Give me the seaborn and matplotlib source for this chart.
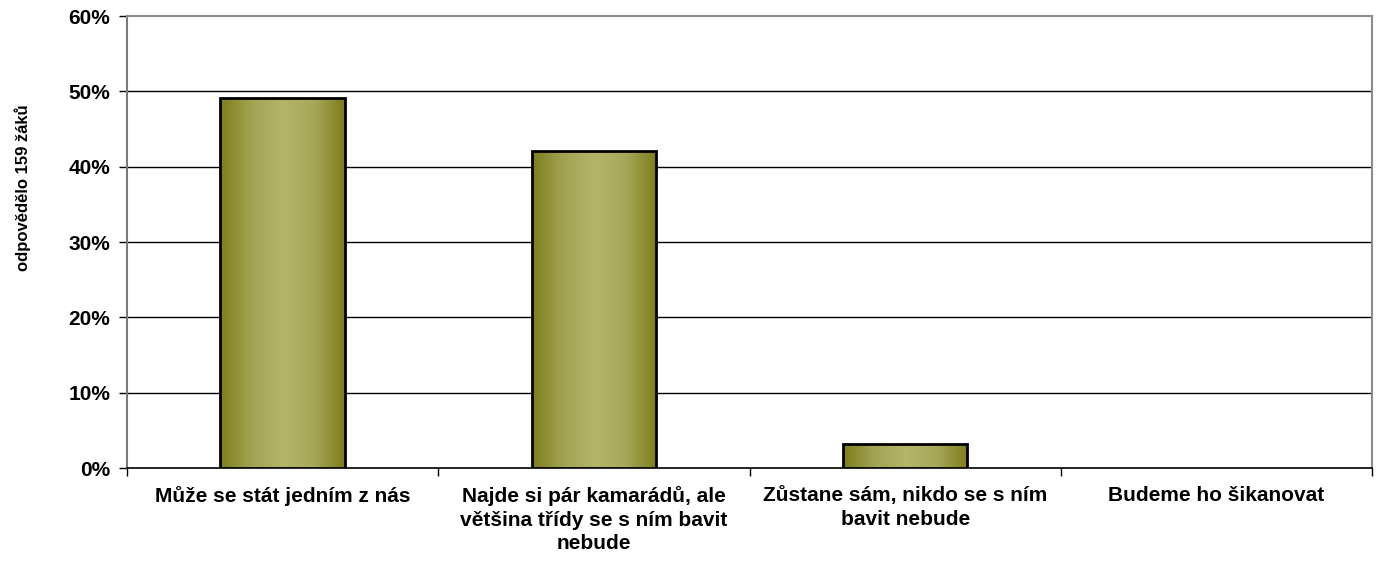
import numpy as np
import matplotlib
matplotlib.use("Agg")
import matplotlib.pyplot as plt
import seaborn as sns
from matplotlib.colors import LinearSegmentedColormap
from matplotlib.ticker import PercentFormatter

categories = [
    "Může se stát jedním z nás",
    "Najde si pár kamarádů, ale\nvětšina třídy se s ním bavit\nnebude",
    "Zůstane sám, nikdo se s ním\nbavit nebude",
    "Budeme ho šikanovat",
]
values = [49.06, 42.14, 3.14, 0.0]
y_ticks = [0, 10, 20, 30, 40, 50, 60]
y_label = "odpovědělo 159 žáků"

sns.set_style("white")
plt.rcParams["font.family"] = ["Liberation Sans", "DejaVu Sans"]
plt.rcParams["font.weight"] = "bold"
plt.rcParams["text.color"] = "black"
plt.rcParams["xtick.color"] = "black"
plt.rcParams["ytick.color"] = "black"
plt.rcParams["axes.labelcolor"] = "black"

fig = plt.figure(figsize=(13.79, 5.66), dpi=100)
ax = fig.add_axes([0.0921, 0.1731, 0.9029, 0.7986])

sns.barplot(x=list(range(len(categories))), y=values, ax=ax, width=0.4,
            color="#8a8a2a", edgecolor="black", linewidth=2, zorder=3)

# horizontal olive gradient inside every bar
grad = LinearSegmentedColormap.from_list(
    "olive", ["#7d7d1c", "#a3a354", "#b5b56a", "#a8a85a", "#7d7d1c"])
g = np.linspace(0, 1, 256).reshape(1, -1)
for p in ax.patches:
    x0, y0 = p.get_x(), p.get_y()
    w, h = p.get_width(), p.get_height()
    if h <= 0:
        p.set_visible(False)
        continue
    im = ax.imshow(g, cmap=grad, aspect="auto", extent=[x0, x0 + w, y0, y0 + h],
                   zorder=3.5, interpolation="bicubic")
    im.set_clip_path(p)
    p.set_facecolor("none")
    p.set_zorder(4)

ax.set_xlim(-0.5, len(categories) - 0.5)
ax.set_ylim(0, 60)
ax.set_yticks(y_ticks)
ax.yaxis.set_major_formatter(PercentFormatter(decimals=0))
for yv in y_ticks[1:-1]:
    ax.axhline(yv, color="black", linewidth=1, zorder=1)

ax.set_xticks(np.arange(-0.5, len(categories), 1), minor=True)
ax.set_xticks(range(len(categories)))
ax.set_xticklabels(categories, fontsize=15, fontweight="bold", linespacing=1.3)
ax.tick_params(axis="x", which="major", length=0, pad=13)
ax.tick_params(axis="x", which="minor", length=6, width=1, color="black", direction="out")
ax.tick_params(axis="y", length=6, width=1, color="black", direction="out", labelsize=15, pad=6)
ax.tick_params(bottom=True, left=True, which="both")
for lab in ax.get_yticklabels():
    lab.set_fontweight("bold")

for side in ["top", "right", "left"]:
    ax.spines[side].set_color("#8c8c8c")
    ax.spines[side].set_linewidth(1.5)
ax.spines["bottom"].set_color("black")
ax.spines["bottom"].set_linewidth(1.2)
ax.spines["left"].set_color("#7a7a7a")

ax.set_xlabel("")
ax.set_ylabel(y_label, fontsize=12, fontweight="bold")
ax.yaxis.set_label_coords(-0.0775, 0.62)

fig.savefig("out.png", dpi=100)
